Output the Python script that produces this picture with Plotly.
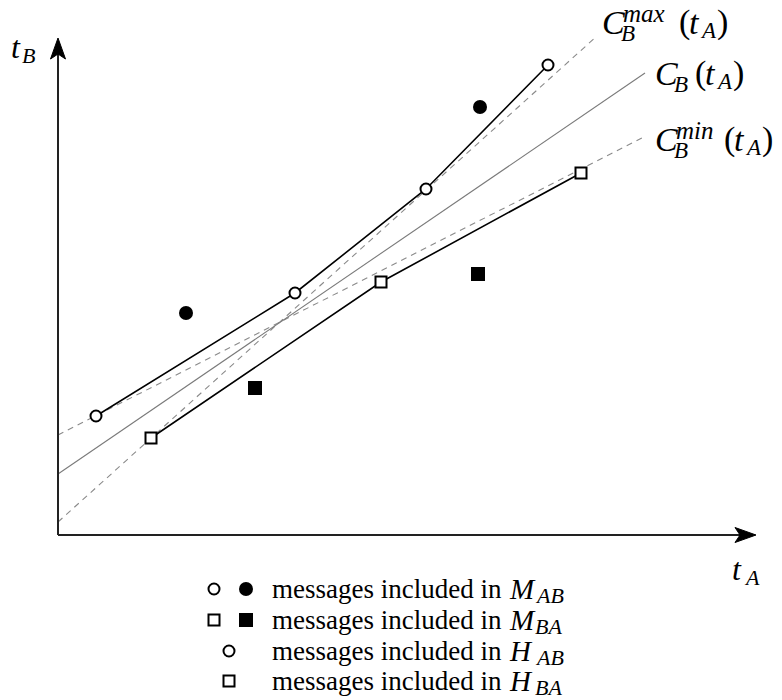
import plotly.graph_objects as go

# ---- data (diagram coordinates: origin at the axes' corner) ----
h_ab_x = [38, 237, 368, 490]
h_ab_y = [119, 242, 346, 470]
m_ab_x = [128, 422]
m_ab_y = [222, 428]
h_ba_x = [93, 323, 523]
h_ba_y = [97, 253, 362]
m_ba_x = [197, 420]
m_ba_y = [147, 261]
cmax_x = [0, 539]
cmax_y = [13, 499]
cmin_x = [0, 584]
cmin_y = [100, 397]
cb_x = [0, 587]
cb_y = [61, 462]
legend_text = "messages included in"
legend_sym = ["M", "M", "H", "H"]
legend_sub = ["AB", "BA", "AB", "BA"]

OX, OY = 58, 535  # pixel position of origin


def X(px):
    return px - OX


def Y(py):
    return OY - py


FONT = "Liberation Serif"
fig = go.Figure()

dash_style = dict(color="#8a8a8a", width=1.1, dash="6px,5px")
fig.add_trace(go.Scatter(x=cmax_x, y=cmax_y, mode="lines", line=dash_style))
fig.add_trace(go.Scatter(x=cmin_x, y=cmin_y, mode="lines", line=dash_style))
fig.add_trace(go.Scatter(x=cb_x, y=cb_y, mode="lines", line=dict(color="#7a7a7a", width=1.1)))

open_circle = dict(symbol="circle", size=11, color="white", line=dict(color="black", width=2))
open_square = dict(symbol="square", size=11, color="white", line=dict(color="black", width=2))
fill_circle = dict(symbol="circle", size=14, color="black")
fill_square = dict(symbol="square", size=14, color="black")

fig.add_trace(go.Scatter(x=h_ab_x, y=h_ab_y, mode="lines+markers",
                         line=dict(color="black", width=1.6), marker=open_circle))
fig.add_trace(go.Scatter(x=h_ba_x, y=h_ba_y, mode="lines+markers",
                         line=dict(color="black", width=1.6), marker=open_square))
fig.add_trace(go.Scatter(x=m_ab_x, y=m_ab_y, mode="markers", marker=fill_circle))
fig.add_trace(go.Scatter(x=m_ba_x, y=m_ba_y, mode="markers", marker=fill_square))

# ---- axes with arrows ----
axis_col = "#222222"
fig.add_shape(type="line", x0=X(58), y0=Y(535), x1=X(58), y1=Y(50),
              line=dict(color=axis_col, width=2))
fig.add_shape(type="line", x0=X(58), y0=Y(535), x1=X(742), y1=Y(535),
              line=dict(color=axis_col, width=2))
p = f"M {X(58)},{Y(38)} L {X(50.5)},{Y(59)} L {X(58)},{Y(54)} L {X(65.5)},{Y(59)} Z"
fig.add_shape(type="path", path=p, fillcolor="black", line=dict(color="black", width=1))
p = f"M {X(756)},{Y(535)} L {X(735)},{Y(527.5)} L {X(740)},{Y(535)} L {X(735)},{Y(542.5)} Z"
fig.add_shape(type="path", path=p, fillcolor="black", line=dict(color="black", width=1))


def txt(px, py, text, size, anchor="left"):
    fig.add_annotation(x=X(px), y=Y(py), text=text, showarrow=False,
                       xanchor=anchor, yanchor="middle",
                       font=dict(family=FONT, size=size, color="black"))


# axis labels
txt(9, 47, "<i>t</i>", 32)
txt(20, 55, "<i>B</i>", 22)
txt(730, 569, "<i>t</i>", 32)
txt(742, 577, "<i>A</i>", 22)


def paren_ta(px, py):
    txt(px, py, "(", 34)
    txt(px + 10, py, "<i>t</i>", 34)
    txt(px + 21, py + 8, "<i>A</i>", 23)
    txt(px + 38, py, ")", 34)


def clabel(px, py, sup, paren_x):
    txt(px, py, "<i>C</i>", 34)
    txt(px + 19, py + 11, "<i>B</i>", 23)
    if sup:
        txt(px + 21, py - 9, f"<i>{sup}</i>", 25)
    paren_ta(paren_x, py)


clabel(600, 22, "max", 677)
clabel(653, 73, None, 693)
clabel(653, 139, "min", 722)

# legend
rows_y = [589, 620, 651, 681]
fig.add_trace(go.Scatter(x=[X(214), X(229)], y=[Y(rows_y[0]), Y(rows_y[2])],
                         mode="markers", marker=open_circle))
fig.add_trace(go.Scatter(x=[X(214), X(229)], y=[Y(rows_y[1]), Y(rows_y[3])],
                         mode="markers", marker=open_square))
fig.add_trace(go.Scatter(x=[X(246)], y=[Y(rows_y[0])], mode="markers", marker=fill_circle))
fig.add_trace(go.Scatter(x=[X(246)], y=[Y(rows_y[1])], mode="markers", marker=fill_square))
for ry, sym, sub in zip(rows_y, legend_sym, legend_sub):
    txt(270, ry, legend_text, 27)
    txt(507, ry, f"<i>{sym}</i>", 29)
    txt(533, ry + 6, f"<i>{sub}</i>", 22)

fig.update_layout(
    width=782, height=700,
    margin=dict(l=0, r=0, t=0, b=0),
    paper_bgcolor="white", plot_bgcolor="white",
    showlegend=False,
    xaxis=dict(range=[X(0), X(782)], visible=False, fixedrange=True),
    yaxis=dict(range=[Y(700), Y(0)], visible=False, fixedrange=True),
)
fig.write_html("out.html")
